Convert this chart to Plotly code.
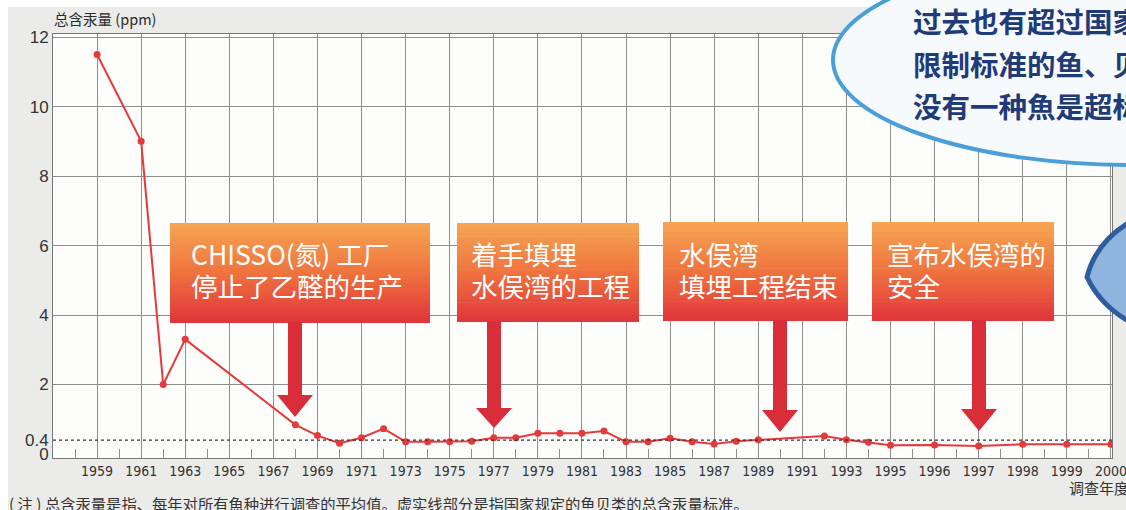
import plotly.graph_objects as go

# ---------------- data ----------------
YEARS = [1959, 1961, 1962, 1963, 1968, 1969, 1970, 1971, 1972, 1973, 1974, 1975, 1976,
         1977, 1978, 1979, 1980, 1981, 1982, 1983, 1984, 1985, 1986, 1987, 1988, 1989,
         1992, 1993, 1994, 1995, 1996, 1997, 1998, 1999, 2000]
MERCURY = [11.5, 9.0, 2.0, 3.3, 0.84, 0.53, 0.31, 0.47, 0.73, 0.35, 0.35, 0.35, 0.37,
           0.47, 0.47, 0.60, 0.60, 0.60, 0.66, 0.35, 0.35, 0.45, 0.35, 0.29, 0.37, 0.41,
           0.52, 0.41, 0.34, 0.25, 0.26, 0.23, 0.28, 0.28, 0.28]
TICK_YEARS = [1959, 1961, 1963, 1965, 1967, 1969, 1971, 1973, 1975, 1977, 1979, 1981,
              1983, 1985, 1987, 1989, 1991, 1993, 1995, 1996, 1997, 1998, 1999, 2000]
Y_TICKS = [0, 0.4, 2, 4, 6, 8, 10, 12]
Y_TICK_TEXT = ["0", "0.4", "2", "4", "6", "8", "10", "12"]
Y_GRID = [2, 4, 6, 8, 10, 12]
STANDARD = 0.4

EVENTS = [["CHISSO(氮) 工厂", "停止了乙醛的生产"],
          ["着手填埋", "水俣湾的工程"],
          ["水俣湾", "填埋工程结束"],
          ["宣布水俣湾的", "安全"]]
BUBBLE_LINES = ["过去也有超过国家", "限制标准的鱼、贝", "没有一种魚是超标"]
Y_TITLE = "总含汞量 (ppm)"
X_TITLE = "调查年度"
NOTE = "( 注 ) 总含汞量是指、每年对所有魚种进行调查的平均值。虚实线部分是指国家规定的鱼贝类的总含汞量标准。"


def pos(year):
    # after 1995 each survey year takes two grid cells
    return year if year <= 1995 else 1995 + 2 * (year - 1995)


# ---------------- layout geometry (pixels) ----------------
W, H = 1126, 510
L, R, T, B = 53, 14, 34, 52
PW, PH = W - L - R, H - T - B


def px(x):
    return (x - L) / PW


def py(y):
    return (H - B - y) / PH


CJK = "Noto Sans CJK SC, Noto Sans, sans-serif"
NARROW = "Liberation Sans Narrow, DejaVu Sans Condensed, Arial Narrow, sans-serif"

fig = go.Figure()
fig.add_trace(go.Scatter(
    x=[pos(y) for y in YEARS], y=MERCURY, mode="lines+markers",
    line=dict(color="#e5393a", width=2),
    marker=dict(color="#e5393a", size=7),
    hoverinfo="x+y", showlegend=False))

shapes = []
# scan white edges
shapes.append(dict(type="rect", xref="paper", yref="paper", x0=px(0), x1=px(W), y0=py(0), y1=py(7),
                   fillcolor="#ffffff", line=dict(width=0), layer="below"))
shapes.append(dict(type="rect", xref="paper", yref="paper", x0=px(0), x1=px(8), y0=py(0), y1=py(H),
                   fillcolor="#ffffff", line=dict(width=0), layer="below"))

# standard dotted line
shapes.append(dict(type="line", xref="paper", yref="y", x0=0, x1=1, y0=STANDARD, y1=STANDARD,
                   line=dict(color="#333333", width=1.2, dash="dot"), layer="above"))

# gradient boxes
BOXES = [(170, 430, 223, 323), (457, 639, 223, 322), (663, 848, 222, 321), (872, 1054, 222, 321)]
stops = [(0.0, (246, 166, 82)), (0.5, (239, 115, 62)), (1.0, (224, 52, 60))]


def grad(t):
    for (t0, c0), (t1, c1) in zip(stops[:-1], stops[1:]):
        if t <= t1:
            f = (t - t0) / (t1 - t0)
            return "rgb(%d,%d,%d)" % tuple(round(a + (b - a) * f) for a, b in zip(c0, c1))
    return "rgb(%d,%d,%d)" % stops[-1][1]


N = 30
for (x0, x1, y0, y1) in BOXES:
    h = (y1 - y0) / N
    for i in range(N):
        ya = y0 + i * h
        yb = min(y1, ya + h + 0.6)
        shapes.append(dict(type="rect", xref="paper", yref="paper", x0=px(x0), x1=px(x1),
                           y0=py(yb), y1=py(ya), fillcolor=grad((i + 0.5) / N),
                           line=dict(width=0), layer="above"))

# arrows
ARROWS = [(295, 322, 395, 417), (494, 321, 408, 428), (780, 320, 410, 432), (979, 320, 409, 431)]
for (cx, top, htop, tip) in ARROWS:
    sw, hw = 7, 18
    pts = [(cx - sw, top), (cx + sw, top), (cx + sw, htop), (cx + hw, htop), (cx, tip),
           (cx - hw, htop), (cx - sw, htop)]
    path = "M " + " L ".join("%f,%f" % (px(a), py(b)) for a, b in pts) + " Z"
    shapes.append(dict(type="path", xref="paper", yref="paper", path=path,
                       fillcolor="#d92d3a", line=dict(width=0), layer="above"))

# speech ellipse (top right)
cxe, cye, rx, ry = 1133, 60, 300, 105
shapes.append(dict(type="circle", xref="paper", yref="paper",
                   x0=px(cxe - rx), x1=px(cxe + rx), y0=py(cye + ry), y1=py(cye - ry),
                   fillcolor="#f7fafd", line=dict(color="#4b9fd9", width=4), layer="above"))

# blue shape at right edge
pts = "M %f,%f Q %f,%f %f,%f Q %f,%f %f,%f L %f,%f Z" % (
    px(1130), py(222), px(1096), py(242), px(1087), py(277),
    px(1100), py(305), px(1130), py(322), px(1130), py(222))
shapes.append(dict(type="path", xref="paper", yref="paper", path=pts,
                   fillcolor="#8fb5df", line=dict(color="#2f5c9c", width=5), layer="above"))

annotations = []
TEXT_X = [189, 469, 677, 885]
for lines, x in zip(EVENTS, TEXT_X):
    for j, t in enumerate(lines):
        annotations.append(dict(text=t, xref="paper", yref="paper", x=px(x), y=py(253 + 32 * j),
                                xanchor="left", yanchor="middle", align="left", showarrow=False,
                                font=dict(family=CJK, size=26.5, color="#ffffff")))
for i, t in enumerate(BUBBLE_LINES):
    annotations.append(dict(text="<b>" + t + "</b>", xref="paper", yref="paper", x=px(911),
                            y=py(20 + 43 * i), xanchor="left", yanchor="middle", showarrow=False,
                            font=dict(family=CJK, size=28.5, color="#1f3b78")))
annotations.append(dict(text=Y_TITLE, xref="paper", yref="paper", x=px(52), y=py(18),
                        xanchor="left", yanchor="middle", showarrow=False,
                        font=dict(family=CJK, size=14.5, color="#2a2a2a")))
annotations.append(dict(text=X_TITLE, xref="paper", yref="paper", x=px(1067), y=py(488),
                        xanchor="left", yanchor="middle", showarrow=False,
                        font=dict(family=CJK, size=15, color="#333333")))
annotations.append(dict(text=NOTE, xref="paper", yref="paper", x=px(7), y=py(503),
                        xanchor="left", yanchor="middle", showarrow=False,
                        font=dict(family=CJK, size=15.3, color="#333333")))

fig.update_layout(
    width=W, height=H, margin=dict(l=L, r=R, t=T, b=B, autoexpand=False),
    paper_bgcolor="#ebecea", plot_bgcolor="#fdfdfc",
    shapes=shapes, annotations=annotations, showlegend=False,
    xaxis=dict(range=[1957, 2005.05], tickvals=[pos(y) for y in TICK_YEARS],
               ticktext=[str(y) for y in TICK_YEARS], showgrid=True, automargin=False,
               gridcolor="#8e8e8e", gridwidth=1, ticks="", ticklabeloverflow="allow",
               tickfont=dict(family=NARROW, size=14, color="#333333"),
               showline=True, linecolor="#777777", linewidth=1, mirror=True,
               zeroline=False,
               minor=dict(tickvals=list(range(1958, 2005, 2)), ticks="inside", ticklen=9,
                          tickcolor="#8e8e8e", tickwidth=1, showgrid=False)),
    yaxis=dict(range=[-0.115, 12.09], tickvals=Y_TICKS, ticktext=Y_TICK_TEXT,
               showgrid=False, zeroline=False, ticks="", automargin=False,
               tickfont=dict(family="Liberation Sans, Arial, sans-serif", size=17, color="#333333"),
               showline=True, linecolor="#777777", linewidth=1, mirror=True,
               minor=dict(tickvals=Y_GRID, showgrid=True, gridcolor="#8e8e8e", gridwidth=1,
                          ticks="")),
)

fig.write_html("out.html", config={"displayModeBar": False},
               post_script="document.body.style.margin='0';document.body.style.overflow='hidden';")
